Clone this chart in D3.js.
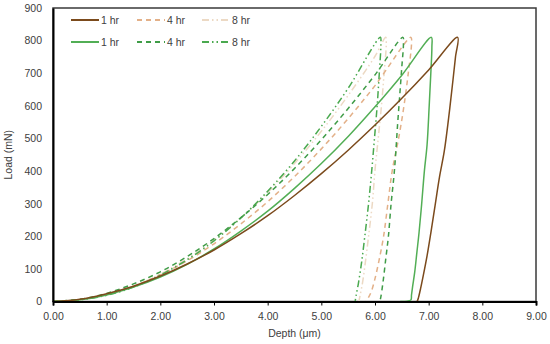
<!DOCTYPE html>
<html>
<head>
<meta charset="utf-8">
<script src="https://cdn.jsdelivr.net/npm/d3@7"></script>
<style>
  body { margin: 0; background: #fff; }
  text { font-family: "Liberation Sans", Arial, sans-serif; }
</style>
</head>
<body>
<div id="chart"></div>
<script>
// Load-depth curves (depth in µm, load in mN), loading then unloading.
const xTicks = [0, 1, 2, 3, 4, 5, 6, 7, 8, 9];
const yTicks = [0, 100, 200, 300, 400, 500, 600, 700, 800, 900];
const legendLabels = ["1 hr", "4 hr", "8 hr"];

const brown1h = [[0,0],[0.5,7],[1,24],[1.5,47],[2,78],[2.5,115],[3,158],[3.5,208],[4,263],[4.5,325],[5,392],[5.5,464],[6,541],[6.5,623],[7,710],[7.54,810],
  [7.5,750],[7.44,660],[7.37,560],[7.29,460],[7.2,380],[7.12,295],[7.04,210],[6.97,140],[6.9,80],[6.85,40],[6.81,12],[6.79,2],[6.78,0]];
const brown4h = [[0,0],[0.5,6],[1,22],[1.5,47],[2,82],[2.5,125],[3,177],[3.5,238],[4,306],[4.5,383],[5,468],[5.5,561],[6,662],[6.67,810],
  [6.68,790],[6.62,700],[6.54,600],[6.44,500],[6.32,400],[6.24,300],[6.16,200],[6.08,130],[6,70],[5.93,30],[5.87,10],[5.83,0]];
const brown8h = [[0,0],[0.5,5],[1,21],[1.5,47],[2,84],[2.5,131],[3,188],[3.5,256],[4,334],[4.5,423],[5,522],[5.5,632],[6,752],[6.2,810],
  [6.21,790],[6.17,700],[6.12,600],[6.06,500],[6,403],[5.95,300],[5.88,200],[5.82,120],[5.77,60],[5.73,25],[5.7,0]];
const green1h = [[0,0],[0.5,5],[1,20],[1.5,44],[2,75],[2.5,114],[3,161],[3.5,216],[4,277],[4.5,347],[5,423],[5.5,506],[6,597],[6.5,694],[7.05,810],
  [7.06,780],[7.04,700],[7.01,600],[6.97,480],[6.92,400],[6.87,300],[6.82,210],[6.78,150],[6.74,90],[6.7,45],[6.68,20],[6.67,5],[6.6,1],[6.47,0]];
const green4h = [[0,0],[0.5,7],[1,25],[1.5,54],[2,91],[2.5,138],[3,193],[3.5,257],[4,328],[4.5,408],[5,496],[5.5,592],[6,695],[6.52,810],
  [6.53,790],[6.5,720],[6.46,630],[6.42,540],[6.38,440],[6.35,380],[6.3,300],[6.25,200],[6.2,130],[6.15,60],[6.11,15],[6.09,0]];
const green8h = [[0,0],[0.5,5],[1,19],[1.5,44],[2,81],[2.5,128],[3,186],[3.5,256],[4,338],[4.5,431],[5,537],[5.5,654],[6.1,810],
  [6.11,790],[6.08,700],[6.04,600],[5.99,500],[5.94,403],[5.88,300],[5.81,200],[5.75,120],[5.69,55],[5.65,20],[5.63,0]];

// Styles, drawn back to front.
const series = [
  { data: brown8h, color: "#ecd9c4", dash: "7,3,1.5,3,1.5,3", width: 1.5 },
  { data: brown4h, color: "#e3b088", dash: "5,4", width: 1.5 },
  { data: green8h, color: "#4aa94f", dash: "7,3,1.5,3,1.5,3", width: 1.5 },
  { data: green4h, color: "#3f9c47", dash: "5,4", width: 1.5 },
  { data: green1h, color: "#52ae55", dash: null, width: 1.5 },
  { data: brown1h, color: "#7b4a1c", dash: null, width: 1.5 }
];

let margin = {top: 8, right: 14, bottom: 42.5, left: 53},
    width = 550 - margin.left - margin.right,
    height = 344 - margin.top - margin.bottom;

let svg = d3.select("#chart").append("svg")
    .attr("width", 550)
    .attr("height", 344)
  .append("g")
    .attr("transform", `translate(${margin.left},${margin.top})`);

let x = d3.scaleLinear().domain([0, 9]).range([0, width]);
let y = d3.scaleLinear().domain([0, 900]).range([height, 0]);

// Plot border.
svg.append("rect")
    .attr("width", width)
    .attr("height", height)
    .attr("fill", "none")
    .attr("stroke", "#3a3a3a")
    .attr("stroke-width", 1.5);

let line = d3.line()
    .x(d => x(d[0]))
    .y(d => y(d[1]))
    .curve(d3.curveCatmullRom.alpha(0.5));

series.forEach(s => {
  svg.append("path")
      .datum(s.data)
      .attr("fill", "none")
      .attr("stroke", s.color)
      .attr("stroke-width", s.width)
      .attr("stroke-dasharray", s.dash)
      .attr("stroke-linejoin", "round")
      .attr("d", line);
});

// Axes.
let xAxis = svg.append("g")
    .attr("transform", `translate(0,${height})`)
    .call(d3.axisBottom(x).tickValues(xTicks).tickFormat(d3.format(".2f")).tickSize(4).tickPadding(7));

let yAxis = svg.append("g")
    .call(d3.axisLeft(y).tickValues(yTicks).tickSize(0).tickPadding(11));

[xAxis, yAxis].forEach(a => {
  a.select(".domain").attr("stroke", "#000").attr("stroke-width", 2);
  a.selectAll(".tick line").attr("stroke", "#000").attr("stroke-width", 1);
  a.selectAll(".tick text")
      .attr("fill", "#404040")
      .style("font-size", "10.5px")
      .style("font-family", "'Liberation Sans', Arial, sans-serif");
});

// Axis titles.
svg.append("text")
    .attr("x", width / 2)
    .attr("y", height + 35)
    .attr("text-anchor", "middle")
    .attr("fill", "#404040")
    .style("font-size", "10.5px")
    .text("Depth (μm)");

svg.append("text")
    .attr("transform", `translate(${-41},${height / 2}) rotate(-90)`)
    .attr("text-anchor", "middle")
    .attr("fill", "#404040")
    .style("font-size", "10.5px")
    .text("Load (mN)");

// Legend: two rows (brown, green), three columns.
let legendRows = [
  [series[5], series[1], series[0]],
  [series[4], series[3], series[2]]
];
let colX = [18, 84, 149];
legendRows.forEach((row, r) => {
  row.forEach((s, c) => {
    let g = svg.append("g")
        .attr("transform", `translate(${colX[c]},${12 + r * 22})`);
    g.append("line")
        .attr("x1", 0).attr("x2", 28)
        .attr("stroke", s.color)
        .attr("stroke-width", 2)
        .attr("stroke-dasharray", s.dash);
    g.append("text")
        .attr("x", 30)
        .attr("dy", "0.35em")
        .attr("fill", "#404040")
        .style("font-size", "10.5px")
        .text(legendLabels[c]);
  });
});
</script>
</body>
</html>
